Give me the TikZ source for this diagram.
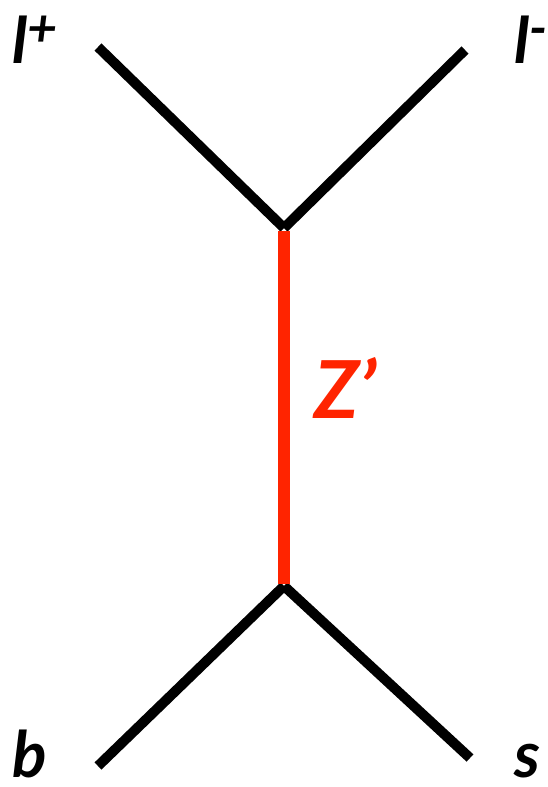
\documentclass[tikz,border=0pt]{standalone}
\usepackage{fontspec}
\setmainfont{Lato}
\usepackage{xcolor}
\usetikzlibrary{positioning}
\definecolor{zred}{RGB}{255,36,0}

\newcommand{\chg}[1]{{\fontsize{52}{52}\selectfont\raisebox{17pt}{#1}}}

\begin{document}
\begin{tikzpicture}[x=1pt, y=-1pt,
    leg/.style={line width=10pt, black},
    prop/.style={line width=12pt, zred},
    lbl/.style={font=\fontsize{64}{64}\selectfont\bfseries\itshape, inner sep=0pt, anchor=base west}]
    \useasboundingbox (0,0) rectangle (547,787);

    % Vertices
    \coordinate (vtop) at (284,228);
    \coordinate (vbot) at (284,586);

    % Outer ends of the legs
    \coordinate (lp) at (98,47);
    \coordinate (lm) at (465,50);
    \coordinate (b) at (98,766);
    \coordinate (s) at (470,758);

    % Legs
    \draw[leg] (lp) -- (vtop);
    \draw[leg] (lm) -- (vtop);
    \draw[leg] (b) -- (vbot);
    \draw[leg] (s) -- (vbot);

    % Z' propagator
    \draw[prop] ([yshift=-3]vtop) -- ([yshift=2]vbot);

    % Labels
    \node[lbl] (lplbl) at (12,63) {l\chg{+}};
    \node[lbl] (lmlbl) at (514,63) {l\chg{-}};
    \node[lbl] (blbl) at (12,777) {b};
    \node[lbl] (slbl) at (514,777) {s};
    \node[lbl, zred, font=\fontsize{80}{80}\selectfont\bfseries\itshape] (zlbl) at (314,418) {Z’};
\end{tikzpicture}
\end{document}
